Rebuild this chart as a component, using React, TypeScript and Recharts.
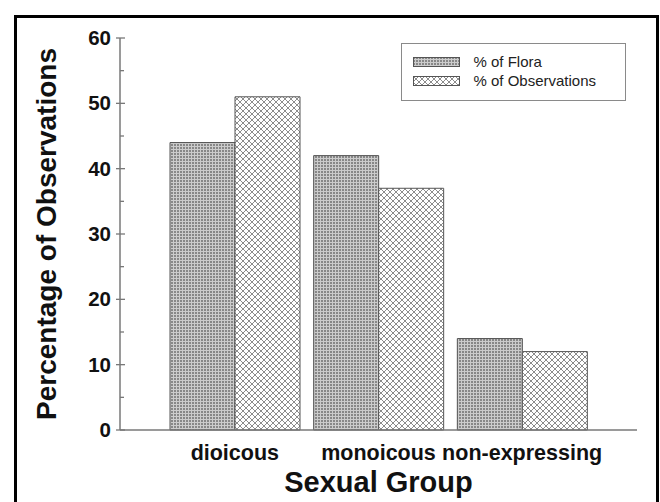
import React from 'react';
import { BarChart, Bar, XAxis, YAxis, Legend, Label } from 'recharts';

// Share of each sexual group in the flora vs. in the observations (%)
const groups = ['dioicous', 'monoicous', 'non-expressing'];
const floraPct = [44, 42, 14];
const observationPct = [51, 37, 12];
const seriesNames = ['% of Flora', '% of Observations'];
const yTicks = [0, 5, 10, 15, 20, 25, 30, 35, 40, 45, 50, 55, 60];

const data = groups.map((group, i) => ({
  group,
  flora: floraPct[i],
  observations: observationPct[i],
}));

const FONT = '"Liberation Sans", Arial, Helvetica, sans-serif';
const AXIS = '#787878';
const INK = '#111';

const YTick = (props: any) => {
  const { x, y, payload } = props;
  const v = payload.value;
  const major = v % 10 === 0;
  return (
    <g>
      {major ? (
        <line x1={x - 4} x2={x + 5} y1={y} y2={y} stroke={AXIS} strokeWidth={1.3} />
      ) : (
        <line x1={x} x2={x + 4} y1={y} y2={y} stroke={AXIS} strokeWidth={1.3} />
      )}
      {major && (
        <text x={x - 9} y={y + 7} textAnchor="end" fontFamily={FONT} fontWeight="bold" fontSize={20.5} fill={INK}>
          {v}
        </text>
      )}
    </g>
  );
};

const XTick = (props: any) => {
  const { x, y, payload } = props;
  return (
    <text x={x} y={y + 30} textAnchor="middle" fontFamily={FONT} fontWeight="bold" fontSize={21.5} fill={INK}>
      {payload.value}
    </text>
  );
};

const XTitle = (props: any) => {
  const vb = props.viewBox || { x: 120, y: 430, width: 517, height: 40 };
  return (
    <text x={vb.x + vb.width / 2} y={vb.y + 62} textAnchor="middle" fontFamily={FONT} fontWeight="bold" fontSize={29} fill={INK}>
      Sexual Group
    </text>
  );
};

const YTitle = (props: any) => {
  const vb = props.viewBox || { x: 0, y: 38, width: 120, height: 392 };
  const cx = 56;
  const cy = vb.y + vb.height / 2;
  return (
    <text x={cx} y={cy} transform={`rotate(-90, ${cx}, ${cy})`} textAnchor="middle" fontFamily={FONT} fontWeight="bold" fontSize={28} fill={INK}>
      Percentage of Observations
    </text>
  );
};

const fills = ['url(#floraHatch)', 'url(#obsHatch)'];

const LegendBox = (props: any) => {
  const payload = (props.payload || []) as any[];
  return (
    <div
      style={{
        width: 225,
        height: 58,
        border: '1.5px solid #8a8a8a',
        boxSizing: 'border-box',
        background: '#fff',
        position: 'relative',
      }}
    >
      {payload.map((entry, i) => (
        <div
          key={entry.value}
          style={{ position: 'absolute', left: 10.5, top: 12 + i * 19, height: 12, display: 'flex', alignItems: 'center' }}
        >
          <svg width={47} height={10} style={{ display: 'block' }}>
            <rect x={0.5} y={0.5} width={46} height={9} fill={fills[i]} stroke="#555" strokeWidth={1} />
          </svg>
          <span style={{ marginLeft: 14, fontSize: 15, fontFamily: FONT, color: '#222', lineHeight: '12px', whiteSpace: 'nowrap' }}>
            {entry.value}
          </span>
        </div>
      ))}
    </div>
  );
};

export default function App() {
  return (
    <div style={{ position: 'absolute', left: 0, top: 0, width: 660, height: 502, overflow: 'hidden', background: '#fff' }}>
      <div
        style={{
          position: 'absolute',
          left: 14,
          top: 15,
          width: 645,
          height: 600,
          border: '3px solid #000',
          boxSizing: 'border-box',
        }}
      />
      <div style={{ position: 'absolute', left: 0, top: 0 }}>
        <BarChart
          width={660}
          height={502}
          data={data}
          margin={{ top: 38, right: 23, bottom: 32, left: 0 }}
          barSize={65}
          barGap={0}
        >
          <defs>
            <pattern id="floraHatch" patternUnits="userSpaceOnUse" width={3} height={3}>
              <rect x={0} y={0} width={3} height={3} fill="#cccccc" />
              <rect x={0} y={0} width={2} height={2} fill="#888888" />
            </pattern>
            <pattern id="obsHatch" patternUnits="userSpaceOnUse" width={6} height={6}>
              <rect x={0} y={0} width={6} height={6} fill="#fff" />
              <path d="M0,0 L6,6 M6,0 L0,6" stroke="#8c8c8c" strokeWidth={1} />
            </pattern>
          </defs>
          <XAxis
            dataKey="group"
            height={40}
            padding={{ left: 43, right: 43 }}
            tickSize={0}
            tickMargin={0}
            tickLine={false}
            tick={<XTick />}
            axisLine={{ stroke: AXIS, strokeWidth: 1.5 }}
          >
            <Label content={<XTitle />} />
          </XAxis>
          <XAxis
            xAxisId="top"
            dataKey="group"
            orientation="top"
            height={0}
            tick={false}
            tickLine={false}
            axisLine={{ stroke: AXIS, strokeWidth: 1.5 }}
          />
          <YAxis
            width={120}
            domain={[0, 60]}
            ticks={yTicks}
            interval={0}
            tickSize={0}
            tickMargin={0}
            tickLine={false}
            tick={<YTick />}
            axisLine={{ stroke: AXIS, strokeWidth: 1.5 }}
          >
            <Label content={<YTitle />} />
          </YAxis>
          <YAxis
            yAxisId="right"
            orientation="right"
            width={0}
            domain={[0, 60]}
            tick={false}
            tickLine={false}
            axisLine={{ stroke: AXIS, strokeWidth: 1.5 }}
          />
          <Legend
            layout="vertical"
            align="center"
            verticalAlign="middle"
            content={<LegendBox />}
            wrapperStyle={{ position: 'absolute', left: 401, top: 43, width: 225, height: 58 }}
          />
          <Bar dataKey="flora" name={seriesNames[0]} fill={fills[0]} stroke="#555" strokeWidth={1} isAnimationActive={false} />
          <Bar dataKey="observations" name={seriesNames[1]} fill={fills[1]} stroke="#555" strokeWidth={1} isAnimationActive={false} />
        </BarChart>
      </div>
    </div>
  );
}
